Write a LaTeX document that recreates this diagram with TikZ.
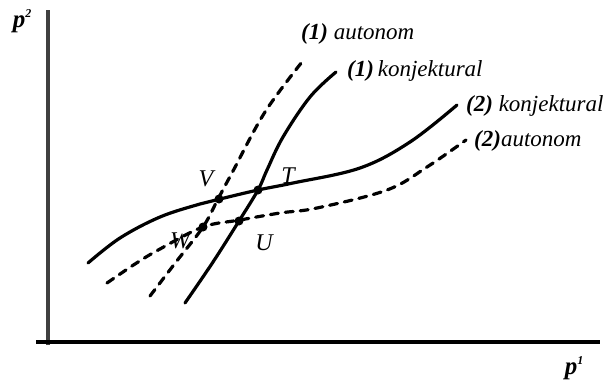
\documentclass[tikz,border=0pt]{standalone}
\usepackage{fontspec}
\setmainfont{Liberation Serif}
\begin{document}
\begin{tikzpicture}[x=1pt,y=-1pt,
  curve/.style={line width=3.2pt,line cap=round},
  dcurve/.style={curve,dash pattern=on 8pt off 7pt},
  axis/.style={line width=3.2pt,black!75},
  pt/.style={circle,fill=black,inner sep=0pt,minimum size=9pt},
  lab/.style={font=\fontsize{24}{26}\selectfont\itshape,inner sep=0pt},
  clab/.style={font=\fontsize{23}{26}\selectfont\itshape,inner sep=0pt,anchor=west}]
\useasboundingbox (0,0) rectangle (612,380);
% axes
\coordinate (ytop) at (48,10);
\coordinate (ybot) at (48,345);
\coordinate (xl) at (36,342);
\coordinate (xr) at (600,342);
\draw[axis] (ybot) -- (ytop);
\draw[axis,black] (xl) -- (xr);
\node[font=\fontsize{25}{26}\selectfont\bfseries\itshape,inner sep=0pt] (ylab) at (22,21) {p\raisebox{0.4em}{\fontsize{12}{12}\selectfont 2}};
\node[font=\fontsize{25}{26}\selectfont\bfseries\itshape,inner sep=0pt] (xlab) at (574,368) {p\raisebox{0.4em}{\fontsize{12}{12}\selectfont 1}};
% curves
\draw[dcurve] plot[smooth,tension=0.6] coordinates {(150,296) (176,262) (203,227) (218,199) (233,171) (265,112) (302,62)};
\draw[curve] plot[smooth,tension=0.6] coordinates {(185,303) (213,262) (239,221) (258,190) (267,170) (283,137) (310,97) (336,72)};
\draw[curve] plot[smooth,tension=0.6] coordinates {(88,263) (120,238) (160,217) (200,204) (220,199) (258,190) (293,183) (360,168) (410,142) (457,105)};
\draw[dcurve] plot[smooth,tension=0.6] coordinates {(107,283) (135,264) (160,249) (203,227) (240,220) (280,213) (317,208) (387,190) (427,167) (466,140)};
% intersection points
\node[pt] (V) at (219,199) {};
\node[pt] (T) at (258,190) {};
\node[pt] (W) at (203,227) {};
\node[pt] (U) at (239,221) {};
\node[lab] (Vl) at (206,179) {V};
\node[lab] (Tl) at (288,176) {T};
\node[lab] (Wl) at (180,241) {W};
\node[lab] (Ul) at (264,243) {U};
% curve labels
\node[clab] (l1a) at (301,34) {\textbf{(1)} autonom};
\node[clab] (l1k) at (347,71) {\textbf{(1)}\,konjektural};
\node[clab] (l2k) at (466,106) {\textbf{(2)} konjektural};
\node[clab] (l2a) at (474,141) {\textbf{(2)}autonom};
\end{tikzpicture}
\end{document}
